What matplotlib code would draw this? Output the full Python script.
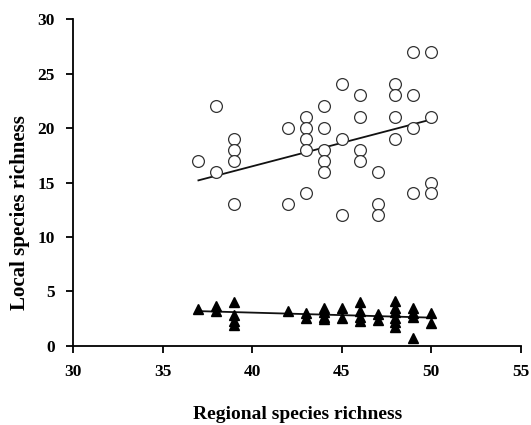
import numpy as np
import matplotlib
matplotlib.use("Agg")
import matplotlib.pyplot as plt

# open circles: (regional, local)
circ_x = [37, 38, 38, 39, 39, 39, 39, 42, 42, 43, 43, 43, 43, 43,
          44, 44, 44, 44, 44, 45, 45, 45, 46, 46, 46, 46, 47, 47, 47,
          48, 48, 48, 48, 49, 49, 49, 49, 50, 50, 50, 50]
circ_y = [17, 22, 16, 19, 18, 17, 13, 20, 13, 21, 20, 19, 18, 14,
          22, 20, 18, 17, 16, 24, 19, 12, 23, 21, 18, 17, 16, 13, 12,
          24, 23, 21, 19, 27, 23, 20, 14, 27, 21, 15, 14]

# filled triangles
tri_x = [37, 38, 38, 39, 39, 39, 39, 42, 43, 43, 44, 44, 44, 44,
         45, 45, 46, 46, 46, 46, 47, 47, 48, 48, 48, 48, 48, 48,
         49, 49, 49, 49, 50, 50]
tri_y = [3.4, 3.7, 3.2, 4.0, 2.8, 2.3, 1.9, 3.2, 3.0, 2.6, 3.5, 3.1, 2.7, 2.5,
         3.5, 2.6, 4.0, 3.2, 2.7, 2.3, 2.9, 2.4, 4.1, 3.5, 3.1, 2.6, 2.2, 1.7,
         3.5, 3.0, 2.7, 0.7, 3.0, 2.1]

# regression lines as printed (slope, intercept)
circ_fit = (0.43, -0.71)
tri_fit = (-0.046, 4.9)

serif = ["Liberation Serif", "DejaVu Serif"]
plt.rcParams["font.family"] = serif
plt.rcParams["font.weight"] = "bold"

fig = plt.figure(figsize=(5.31, 4.25), dpi=100)
ax = fig.add_axes([0.1375, 0.186, 0.8435, 0.769])

ax.plot(circ_x, circ_y, "o", mfc="white", mec="#333", mew=0.9, ms=8.5,
        linestyle="none", zorder=3)
ax.plot(tri_x, tri_y, "^", color="black", ms=7, linestyle="none", zorder=3)

for xs, (b, a) in ((circ_x, circ_fit), (tri_x, tri_fit)):
    xx = np.array([min(xs), max(xs)])
    ax.plot(xx, a + b * xx, color="#111", lw=1.3, zorder=2)

ax.set_xlim(30, 55)
ax.set_ylim(0, 30)
ax.set_xticks(range(30, 56, 5))
ax.set_yticks(range(0, 31, 5))
for s in ("top", "right"):
    ax.spines[s].set_visible(False)
for s in ("left", "bottom"):
    ax.spines[s].set_linewidth(1.3)
ax.tick_params(direction="out", length=5, width=1.3, labelsize=12.5, pad=8)
for lab in ax.get_xticklabels() + ax.get_yticklabels():
    lab.set_fontweight("bold")

ax.set_xlabel("Regional species richness", fontsize=14, fontweight="bold")
ax.set_ylabel("Local species richness", fontsize=15, fontweight="bold")
ax.xaxis.set_label_coords(0.501, -0.185)
ax.yaxis.set_label_coords(-0.097, 0.407)

fig.savefig("out.png", dpi=100, facecolor="white")
